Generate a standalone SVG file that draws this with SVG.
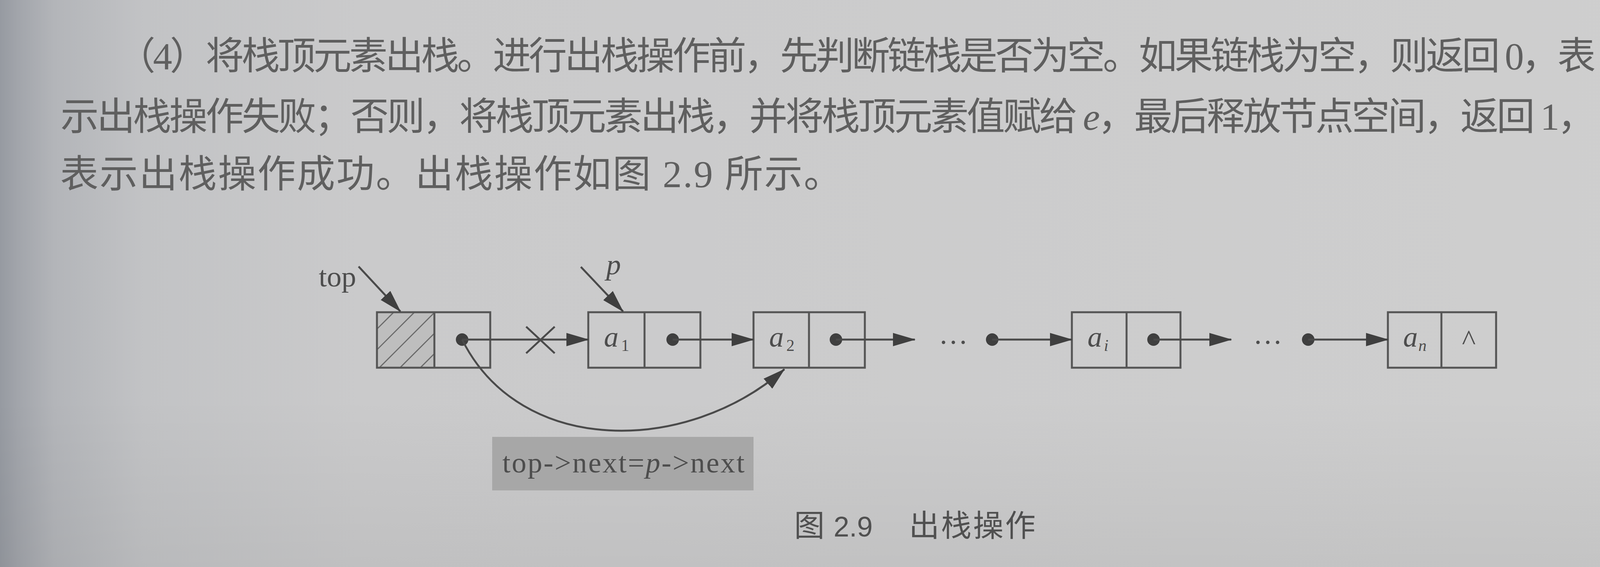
<svg xmlns="http://www.w3.org/2000/svg" width="4624" height="1451" viewBox="0 0 4624 1451">
<defs>
<style>
.body{font-family:"Noto Sans CJK SC","Liberation Serif",serif;font-size:98px;fill:#5f5f5f;}
.lat{font-family:"Liberation Serif",serif;}
.it{font-family:"Liberation Serif",serif;font-style:italic;}
.cell{fill:none;stroke:#555;stroke-width:5;}
.lbl{font-family:"Liberation Serif",serif;font-size:75px;fill:#4d4d4d;}
.sub{font-family:"Liberation Serif",serif;font-size:42px;fill:#4d4d4d;}
.link{fill:none;stroke:#4a4a4a;stroke-width:5;}
.arr{marker-end:url(#ah);}
.dot{fill:#3f3f3f;}
.hatch{stroke:#6a6a6a;stroke-width:3;}
.cap{font-family:"Noto Sans CJK SC",sans-serif;font-size:78px;fill:#505050;}
</style>
<linearGradient id="bg" x1="0" y1="0" x2="1" y2="0">
<stop offset="0" stop-color="#969aa1"/>
<stop offset="0.01" stop-color="#a2a5ab"/>
<stop offset="0.03" stop-color="#b3b5b9"/>
<stop offset="0.08" stop-color="#c2c3c5"/>
<stop offset="0.2" stop-color="#cacacb"/>
<stop offset="1" stop-color="#cfcfcf"/>
</linearGradient>
<linearGradient id="shade" x1="0" y1="0" x2="0" y2="1">
<stop offset="0" stop-color="#000" stop-opacity="0"/>
<stop offset="0.7" stop-color="#000" stop-opacity="0"/>
<stop offset="1" stop-color="#000" stop-opacity="0.05"/>
</linearGradient>
<marker id="ah" viewBox="0 0 58 34" refX="56" refY="17" markerWidth="58" markerHeight="34" markerUnits="userSpaceOnUse" orient="auto">
<path d="M0,0 L58,17 L0,34 z" fill="#3f3f3f"/>
</marker>
<clipPath id="hclip"><rect x="965" y="799" width="147" height="142"/></clipPath>
</defs>

<rect width="4624" height="1451" fill="url(#bg)"/>
<rect width="4624" height="1451" fill="url(#shade)"/>

<g id="paragraph">
<text class="body" x="300" y="177" font-size="88" textLength="3785" lengthAdjust="spacing">（<tspan class="lat">4</tspan>）将栈顶元素出栈。进行出栈操作前，先判断链栈是否为空。如果链栈为空，则返回<tspan class="lat"> 0</tspan>，表</text>
<text class="body" x="155" y="332" font-size="92" textLength="3930" lengthAdjust="spacing">示出栈操作失败；否则，将栈顶元素出栈，并将栈顶元素值赋给<tspan class="it"> e</tspan>，最后释放节点空间，返回<tspan class="lat"> 1</tspan>，</text>
<text class="body" x="154" y="479" letter-spacing="3">表示出栈操作成功。出栈操作如图<tspan class="lat"> 2.9 </tspan>所示。</text>
</g>

<g id="node-top">
<rect x="965" y="799" width="147" height="142" fill="#bebebe"/>
<g clip-path="url(#hclip)">
<line class="hatch" x1="900" y1="907" x2="1200" y2="607"/>
<line class="hatch" x1="900" y1="960" x2="1200" y2="660"/>
<line class="hatch" x1="900" y1="1012" x2="1200" y2="712"/>
<line class="hatch" x1="900" y1="1065" x2="1200" y2="765"/>
<line class="hatch" x1="900" y1="1117" x2="1200" y2="817"/>
</g>
<rect class="cell" x="965" y="799" width="290" height="142"/>
<line class="cell" x1="1112" y1="799" x2="1112" y2="941"/>
<circle class="dot" cx="1183" cy="869" r="16"/>
<text class="lbl" x="816" y="733">top</text>
</g>

<g id="node-a1">
<rect class="cell" x="1506" y="799" width="287" height="142"/>
<line class="cell" x1="1650" y1="799" x2="1650" y2="941"/>
<text class="lbl it" x="1546" y="887">a</text>
<text class="sub" x="1590" y="898">1</text>
<circle class="dot" cx="1722" cy="869" r="16"/>
<text class="lbl it" x="1552" y="702">p</text>
</g>

<g id="node-a2">
<rect class="cell" x="1929" y="799" width="285" height="142"/>
<line class="cell" x1="2071" y1="799" x2="2071" y2="941"/>
<text class="lbl it" x="1969" y="887">a</text>
<text class="sub" x="2013" y="898">2</text>
<circle class="dot" cx="2140" cy="869" r="16"/>
</g>

<g id="node-ai">
<rect class="cell" x="2744" y="799" width="278" height="142"/>
<line class="cell" x1="2884" y1="799" x2="2884" y2="941"/>
<text class="lbl it" x="2784" y="887">a</text>
<text class="sub it" x="2826" y="898">i</text>
<circle class="dot" cx="2953" cy="869" r="16"/>
</g>

<g id="node-an">
<rect class="cell" x="3553" y="799" width="277" height="142"/>
<line class="cell" x1="3690" y1="799" x2="3690" y2="941"/>
<text class="lbl it" x="3592" y="887">a</text>
<text class="sub it" x="3631" y="898">n</text>
<text class="lbl" x="3760" y="895" font-size="60" text-anchor="middle">^</text>
</g>

<g id="ellipses">
<text class="lbl" x="2403" y="880">…</text>
<text class="lbl" x="3208" y="880">…</text>
<circle class="dot" cx="2540" cy="869" r="16"/>
<circle class="dot" cx="3349" cy="869" r="16"/>
</g>

<g id="connectors">
<line class="link arr" x1="918" y1="682" x2="1025" y2="797"/>
<line class="link arr" x1="1487" y1="683" x2="1595" y2="797"/>
<line class="link arr" x1="1183" y1="869" x2="1506" y2="869"/>
<line class="link" x1="1347" y1="836" x2="1420" y2="904" stroke-width="4"/>
<line class="link" x1="1347" y1="904" x2="1420" y2="836" stroke-width="4"/>
<line class="link arr" x1="1722" y1="869" x2="1929" y2="869"/>
<line class="link arr" x1="2140" y1="869" x2="2342" y2="869"/>
<line class="link arr" x1="2540" y1="869" x2="2744" y2="869"/>
<line class="link arr" x1="2953" y1="869" x2="3152" y2="869"/>
<line class="link arr" x1="3349" y1="869" x2="3553" y2="869"/>
<path class="link arr" d="M1183,869 C1333,1169 1759,1163 2008,945"/>
</g>

<g id="label-box">
<rect x="1260" y="1118" width="669" height="137" fill="#a7a7a7"/>
<text class="lbl" x="1286" y="1209" font-size="74" textLength="620" lengthAdjust="spacing">top-&gt;next=<tspan class="it">p</tspan>-&gt;next</text>
</g>

<g id="caption">
<text class="cap" x="2033" y="1373">图</text>
<text x="2134" y="1373" font-family="Liberation Sans, sans-serif" font-size="72" fill="#505050">2.9</text>
<text class="cap" x="2327" y="1373" letter-spacing="4">出栈操作</text>
</g>
</svg>
